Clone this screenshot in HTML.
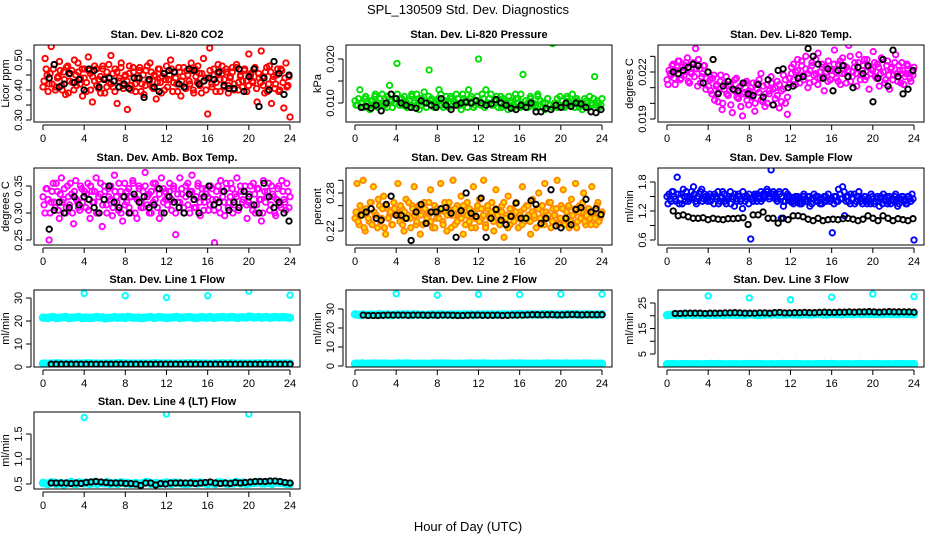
<!DOCTYPE html>
<html><head><meta charset="utf-8">
<style>
html,body{margin:0;padding:0;background:#fff;}
svg{display:block;font-family:"Liberation Sans",sans-serif;}
</style></head>
<body>
<svg id="chart" width="936" height="540" viewBox="0 0 936 540">
<text x="468" y="14" text-anchor="middle" font-size="13">SPL_130509  Std. Dev. Diagnostics</text>
<text x="468" y="531" text-anchor="middle" font-size="13">Hour of Day (UTC)</text>
</svg>
<script>
// ---- data (values in scaled integer units; see panel scale) ----
const xTickLabels = [0,4,8,12,16,20,24];
const outlierHours = [4,8,12,16,20,24];
const outlierHours4 = [4,12,20];

const co2Color = [410,505,450,420,545,470,400,440,495,415,460,385,480,430,465,400,450,490,420,470,440,
395,510,455,360,430,470,405,445,480,390,460,425,515,410,470,355,440,490,405,450,
335,480,415,460,395,440,475,420,385,465,430,490,410,450,370,470,425,445,400,480,
435,500,395,460,420,475,380,445,410,465,430,490,400,470,425,455,390,505,440,320,
540,420,470,395,455,435,480,410,460,390,445,475,420,485,400,450,430,470,395,520,
455,425,475,360,440,530,415,460,395,480,355,445,420,470,400,465,340,490,415,310];
const co2Color2 = [430,470,395,455,420,485,410,445,465,400,435,475,390,455,425,500,415,460,440,380,470,
425,465,400,445,480,415,435,390,470,440,410,485,420,455,395,460,430,475,415,445,
430,455,400,475,420,440,465,395,450,415,480,430,460,405,445,425,470,390,455,435,
410,450,470,425,440,395,460,430,475,405,450,420,465,390,445,480,415,455,430,400,
440,465,410,450,425,485,395,455,435,470,415,440,460,400,475,425,445,410,465,430,
415,450,430,470,405,455,425,445,390,475,420,460,435,405,450,395,470,425,440,410,445];
const co2Black = [440,485,410,420,455,425,435,400,470,465,410,435,440,430,410,420,405,440,440,375,435,410,395,455,465,460,420,410,470,465,420,430,440,435,460,415,405,405,470,395,445,470,345,440,400,495,455,385,450];

const presColor = [105,95,130,100,110,90,85,105,115,100,95,120,110,90,140,105,100,190,95,110,
115,100,90,120,105,95,85,110,125,100,175,110,90,105,130,95,100,115,90,110,
105,120,95,85,110,100,130,115,90,105,200,95,110,130,100,120,95,105,90,115,
110,100,85,105,95,120,110,90,165,105,100,115,95,90,120,105,100,85,110,95,
235,100,90,115,105,95,110,100,120,90,105,95,85,110,100,115,95,160,105,90,110];
const presColor2 = [95,110,100,90,115,100,105,95,120,90,110,100,95,115,105,90,100,120,110,95,100,
90,105,115,100,120,110,95,100,90,115,105,100,95,110,120,90,105,100,115,95,
100,110,95,120,105,90,110,100,95,115,105,120,90,100,110,95,105,115,100,90,
95,105,115,100,90,110,100,120,95,105,90,110,100,95,115,105,90,100,110,95,
90,100,110,95,105,90,115,100,95,105,110,90,100,95,105,90,100,110,95,100,95];
const presBlack = [90,92,88,95,82,100,120,110,100,95,90,88,105,100,95,90,110,95,85,95,100,102,100,105,100,95,98,108,100,95,88,85,95,90,100,80,80,88,85,95,90,100,92,100,98,90,80,78,85];

const tempColor = [2150,2210,2180,2250,2120,2230,2270,2160,2200,2240,2290,2130,2190,2260,2350,2110,2220,2170,2240,2090,2200,
2150,2060,2180,2110,2010,2140,1960,2090,2170,2050,2120,1940,2080,2160,2030,2110,1920,2070,2140,1990,
2100,2040,1950,2130,2070,2190,2010,1980,2120,2060,2170,2090,2030,2140,1970,2080,2180,2000,1930,2120,
2230,2150,2200,2280,2130,2240,2180,2300,2100,2210,2260,2140,2190,2320,2160,2230,2080,2200,2270,2150,
2210,2340,2160,2250,2120,2290,2190,2230,2370,2140,2200,2260,2110,2310,2180,2240,2150,2280,2090,2220,
2330,2170,2250,2110,2290,2200,2150,2270,2090,2230,2180,2310,2140,2210,2260,2120,2190,2240,2160,2200,2230];
const tempColor2 = [2120,2190,2240,2160,2210,2270,2150,2230,2180,2260,2140,2200,2250,2170,2220,2280,2130,2190,2240,2160,2110,
2080,2160,2020,2120,2070,2180,2000,2130,2060,2110,1990,2090,2150,2040,2100,1980,2060,2130,2020,2080,
2060,2130,2000,2090,2150,2020,2110,2060,2000,2080,2130,1990,2100,2050,2120,2010,2090,2150,2040,2160,
2190,2250,2120,2210,2170,2270,2150,2220,2190,2130,2240,2180,2280,2120,2200,2250,2170,2230,2140,2210,
2180,2250,2200,2140,2270,2190,2240,2130,2210,2300,2170,2230,2190,2260,2150,2210,2280,2170,2230,2190,
2210,2260,2160,2230,2190,2280,2130,2240,2180,2220,2150,2260,2190,2240,2130,2210,2170,2250,2190,2140,2180];
const tempBlack = [2200,2190,2210,2230,2250,2240,2130,2200,2280,2060,2110,2140,2090,2080,2130,2060,2050,2120,2040,2150,1990,2210,2220,2100,2110,2160,2170,2350,2300,2250,2160,2220,2080,2210,2240,2170,2100,2230,2190,2240,2010,2160,2280,2110,2340,2170,2060,2090,2210];

const ambColor = [330,300,345,250,320,355,310,340,290,365,325,300,350,315,335,280,360,320,305,345,330,
310,355,290,340,320,365,300,335,275,350,315,345,325,295,370,330,305,340,285,355,
320,345,300,360,330,290,350,310,340,375,315,335,300,355,325,345,290,365,320,340,
330,355,305,345,260,320,365,335,300,350,315,340,370,310,330,355,295,345,320,335,
305,350,325,245,340,310,360,330,295,345,320,355,300,335,365,310,340,325,350,290,
335,315,355,300,345,325,285,360,320,340,305,350,330,295,345,315,360,325,305,340,330];
const ambColor2 = [315,345,325,300,340,320,355,305,335,320,345,310,330,355,300,340,325,310,350,320,340,
335,305,350,320,340,300,330,355,315,340,300,330,350,310,340,320,355,300,330,315,
340,310,330,355,300,325,345,320,310,350,330,300,340,320,355,310,335,300,345,325,
315,340,325,350,300,335,320,345,310,330,355,300,340,325,310,350,320,335,305,345,
330,315,345,305,325,350,300,340,320,355,310,330,345,315,330,305,350,320,340,315,
320,350,305,335,315,345,325,300,340,330,355,315,335,300,325,350,310,340,320,355,310];
const ambBlack = [270,305,320,300,310,330,315,330,325,310,300,325,350,320,310,330,300,335,320,330,310,315,345,300,330,320,310,300,335,325,300,330,350,315,320,340,305,320,310,340,330,315,300,355,330,310,320,300,285];

const rhColor = [240,295,230,255,300,220,250,235,265,290,245,225,260,240,275,215,255,245,230,265,250,
295,235,255,220,270,245,240,260,290,230,255,215,250,265,235,245,285,225,260,240,
250,295,235,265,220,255,245,300,230,260,240,275,215,250,265,235,245,290,225,255,
270,240,300,230,255,245,265,220,285,250,235,260,210,245,275,230,255,240,265,225,
250,290,235,260,245,215,270,240,255,280,230,250,295,240,265,225,255,245,300,235,
260,285,240,255,225,270,245,295,235,260,250,280,230,255,240,290,245,230,265,240,250];
const rhColor2 = [250,235,260,245,225,255,240,265,230,250,245,270,235,255,225,260,240,250,230,255,245,
245,260,230,250,240,265,225,255,245,235,260,245,230,255,240,265,235,250,225,255,
240,255,230,250,245,265,225,245,255,235,250,240,260,230,245,255,225,250,240,260,
235,255,245,225,260,240,250,235,255,245,230,250,265,240,225,255,245,235,250,240,
245,230,255,240,260,235,250,245,225,255,240,260,230,250,245,265,235,245,255,230,
240,255,230,250,260,235,245,255,225,250,240,265,235,245,255,230,250,240,260,235,245];
const rhBlack = [245,250,255,240,237,262,275,245,245,240,205,250,262,232,250,250,255,257,248,210,252,280,248,243,272,210,240,254,237,230,243,264,240,240,268,262,232,240,285,228,225,240,230,254,257,270,250,255,246];

const flowColor = [150,155,140,160,145,190,135,155,165,140,150,145,160,170,140,150,155,165,145,150,140,
155,145,135,150,160,140,148,155,135,145,160,150,130,145,155,140,125,150,145,135,
62,145,155,140,150,160,145,155,165,150,205,155,145,140,160,105,130,140,150,145,
138,148,140,150,135,145,155,140,150,130,145,155,150,140,135,145,150,140,155,145,
75,150,140,165,145,170,110,150,140,155,145,135,150,160,140,145,150,135,140,155,
145,140,150,130,145,155,140,135,150,145,140,155,130,145,150,140,135,150,145,155,60];
const flowColor2 = [135,145,160,150,140,155,145,135,150,160,140,150,145,155,135,150,160,140,155,145,150,
140,150,155,145,135,150,160,140,145,150,135,145,155,140,150,145,160,140,150,155,
145,140,150,155,145,140,155,150,160,145,155,160,150,145,155,150,140,160,155,150,
140,135,150,145,140,135,150,145,140,150,135,145,140,150,145,135,140,150,145,140,
145,135,150,140,155,145,160,140,150,135,145,155,140,150,145,135,150,140,145,135,
150,135,145,140,150,135,145,150,140,135,145,150,140,135,145,150,140,135,150,140,145];
const flowBlack = [120,110,112,108,105,105,106,102,105,103,102,104,104,105,106,92,112,112,118,105,105,95,105,102,110,110,108,103,100,105,100,102,103,102,104,105,103,100,103,110,105,100,110,105,100,104,102,100,104];

const line1Band = [215,213,217,214,216,212,215,218,214,213,216,215,211,214,217,215,213,216,214,212,215,217,214,216,213,215,218,214,216,215,213,217,215,214,216,218,215,217,214,216,219,215,217,216,214,218,215,216,214];
const line1Band2 = [214,216,213,215,217,214,216,213,215,214,217,216,213,215,214,216,218,214,215,213,216,214,217,215,214,216,213,215,217,214,216,215,218,214,216,215,217,214,216,215,218,216,214,217,215,216,218,215];
const line1Low = [15,14,15,16,15,15,14,15,15,16,15,14,15,15,15,16,15,14,15,15,15,14,16,15,15,15,14,15,16,15,15,15,14,15,15,16,15,15,14,15,15,15,16,15,14,15,15,15,15];
const line1Low2 = [15,15,16,15,14,15,15,15,16,15,15,14,15,15,16,15,15,15,14,15,15,16,15,15,15,14,15,15,15,16,15,15,14,15,15,15,16,15,15,14,15,15,15,16,15,15,14,15];
const line1Black = [12,12,12,12,12,12,12,12,12,12,12,12,12,12,12,12,12,12,12,12,12,12,12,12,12,12,12,12,12,12,12,12,12,12,12,12,12,12,12,12,12,12,12,12,12,12,12,12,12];
const line1Out = [320,310,302,310,330,312];

const line2Band = [272,268,270,271,269,272,270,268,271,270,272,269,271,270,268,272,270,271,269,270,272,271,270,268,271,272,270,269,271,272,270,271,273,270,272,271,270,272,273,271,270,272,271,273,270,272,271,270,272];
const line2Band2 = [270,271,269,270,272,270,271,269,270,271,270,272,270,269,271,270,272,270,271,270,269,271,272,270,270,271,272,270,271,270,272,271,270,272,271,270,273,271,272,270,271,273,272,270,271,272,270,271];
const line2Low = [12,12,11,12,13,12,12,11,12,12,13,12,12,12,11,12,12,13,12,12,12,11,12,12,12,13,12,12,11,12,12,12,13,12,12,12,11,12,12,12,12,13,12,12,11,12,12,12,12];
const line2Low2 = [12,13,12,12,11,12,12,12,13,12,12,11,12,12,12,13,12,12,12,11,12,12,13,12,12,12,11,12,12,12,13,12,12,11,12,12,12,13,12,12,12,11,12,12,13,12,12,12];
const line2Black = [268,266,266,266,267,268,268,268,268,267,268,268,268,267,268,267,268,268,267,266,266,267,268,268,267,267,267,268,266,267,268,268,268,269,270,270,269,270,270,269,269,270,271,270,269,270,270,270,270];
const line2Out = [380,373,377,376,378,378];

const line3Band = [202,204,203,205,204,203,205,204,202,204,205,203,204,205,204,203,205,204,203,205,204,206,205,204,206,205,204,206,205,207,206,205,207,206,205,207,206,208,207,206,208,207,206,208,207,206,208,207,206];
const line3Band2 = [203,205,204,203,205,204,203,204,205,203,204,205,204,203,205,204,205,203,204,206,205,204,205,206,205,204,206,205,206,207,205,206,207,206,207,206,207,206,208,207,206,207,208,206,207,208,207,206];
const line3Low = [10,10,9,10,11,10,10,9,10,10,11,10,10,10,9,10,10,11,10,10,10,9,10,10,10,11,10,10,9,10,10,10,11,10,10,10,9,10,10,10,10,11,10,10,9,10,10,10,10];
const line3Low2 = [10,11,10,10,9,10,10,10,11,10,10,9,10,10,10,11,10,10,10,9,10,10,11,10,10,10,9,10,10,10,11,10,10,9,10,10,10,11,10,10,10,9,10,10,11,10,10,10];
const line3Black = [209,209,210,210,210,210,209,210,210,210,211,211,212,211,210,210,210,211,211,210,212,213,211,211,212,212,213,212,212,213,214,213,213,214,214,215,214,215,215,216,215,214,215,216,215,215,215,215,214];
const line3Out = [278,270,263,273,285,275];

const line4Band = [52,50,53,51,49,52,50,53,51,50,54,52,51,50,52,53,51,50,52,51,54,50,52,51,53,50,52,51,50,53,51,52,50,51,53,52,50,51,52,53,51,52,54,51,52,53,52,51,50];
const line4Band2 = [51,53,50,52,51,54,50,52,53,51,50,52,54,51,50,53,52,51,50,52,53,51,50,52,51,53,52,50,51,52,53,51,52,50,53,51,52,54,51,50,52,53,51,52,50,53,52,50];
const line4Black = [52,52,52,52,51,52,51,53,54,55,54,53,52,52,52,51,51,50,47,52,52,48,51,50,52,52,52,52,52,51,52,53,54,52,51,52,51,53,52,53,54,55,55,55,56,56,55,53,52];
const line4Out = [183,190,190];

// ---- layout ----
const svg = document.getElementById('chart');
const NS = 'http://www.w3.org/2000/svg';
const colLeft = [34,346,658], rowTop = [45,168,290,412], BW = 266, BH = 77;

function mk(tag, attrs, parent){
  const e = document.createElementNS(NS, tag);
  for (const k in attrs) e.setAttribute(k, attrs[k]);
  (parent||svg).appendChild(e);
  return e;
}

function panel(cfg){
  const L = colLeft[cfg.col], T = rowTop[cfg.row];
  const g = mk('g', {});
  
  
  const x0 = L + 9, x1 = L + 256;
  const xs = h => x0 + (x1 - x0) * h / 24;
  const [v1, p1, v2, p2] = cfg.ref;
  const ys = v => T + p1 + (v - v1) * (p2 - p1) / (v2 - v1);
  const tt = mk('text', {x: L + BW/2, y: T - 7, 'text-anchor': 'middle', 'font-size': 11, 'font-weight': 'bold'}, g);
  tt.textContent = cfg.title;
  
  
  const cid = 'clip' + cfg.row + cfg.col;
  const cp = mk('clipPath', {id: cid}, g);
  mk('rect', {x: L, y: T, width: BW, height: BH}, cp);
  const pg = mk('g', {'clip-path': 'url(#' + cid + ')'}, g);
  cfg.series.forEach(s => {
    const n = s.vals.length;
    const st = s.start != null ? s.start : 0, en = s.end != null ? s.end : 24;
    for (let i = 0; i < n; i++) {
      const h = s.hours ? s.hours[i] : st + (en - st) * i / (n - 1);
      const c = mk('circle', {cx: xs(h).toFixed(1), cy: ys(s.vals[i] * cfg.scale).toFixed(1), r: s.r || 2.7,
        fill: s.fill || 'none', stroke: s.color, 'stroke-width': s.sw || 1.9}, pg);
      
      
    }
  });
  const box = mk('rect', {x: L, y: T, width: BW, height: BH, fill: 'none', stroke: '#000', 'stroke-width': 1}, g);
  
  
  const B = T + BH;
  mk('line', {x1: x0, x2: x1, y1: B + 3, y2: B + 3, stroke: '#000'}, g);
  xTickLabels.forEach(h => {
    mk('line', {x1: xs(h), x2: xs(h), y1: B + 3, y2: B + 8, stroke: '#000'}, g);
    const t = mk('text', {x: xs(h), y: B + 20, 'text-anchor': 'middle', 'font-size': 11}, g);
    t.textContent = h;
    
    
  });
  const yt = cfg.ticks;
  mk('line', {x1: L - 3, x2: L - 3, y1: ys(yt[0]), y2: ys(yt[yt.length - 1]), stroke: '#000'}, g);
  yt.forEach(v => mk('line', {x1: L - 8, x2: L - 3, y1: ys(v), y2: ys(v), stroke: '#000'}, g));
  cfg.labels.forEach(v => {
    const y = ys(v), x = L - 12;
    const t = mk('text', {x: x, y: y, 'text-anchor': 'middle', 'font-size': 11,
      transform: 'rotate(-90 ' + x + ' ' + y + ')'}, g);
    t.textContent = cfg.fmt(v);
    
    
  });
  const ax = L - 25, ay = T + BH/2;
  const yl = mk('text', {x: ax, y: ay, 'text-anchor': 'middle', 'font-size': 11,
    transform: 'rotate(-90 ' + ax + ' ' + ay + ')'}, g);
  yl.textContent = cfg.ylab;
  
  
}

const RED = '#ff0000', BLK = '#000', GRN = '#00dd00', MAG = '#ff00ff', BLU = '#0000ff', CYA = '#00ffff';
const f2 = v => v.toFixed(2), f3 = v => v.toFixed(3), f1 = v => v.toFixed(1), f0 = v => v.toFixed(0);

panel({name:'panel-co2', row:0, col:0, title:'Stan. Dev. Li-820 CO2', ylab:'Licor ppm', scale:0.001,
  ref:[0.30,75,0.50,15], ticks:[0.30,0.35,0.40,0.45,0.50], labels:[0.30,0.40,0.50], fmt:f2,
  series:[{vals:co2Color,color:RED,name:'co2-point'},{vals:co2Color2,color:RED,start:0.1,end:23.9,name:'co2-point'},
          {vals:co2Black,color:BLK,start:0.6,end:23.9,name:'co2-black-point'}]});
panel({name:'panel-pressure', row:0, col:1, title:'Stan. Dev. Li-820 Pressure', ylab:'kPa', scale:0.0001,
  ref:[0.010,58,0.020,14], ticks:[0.010,0.015,0.020], labels:[0.010,0.020], fmt:f3,
  series:[{vals:presColor,color:GRN,name:'pressure-point'},{vals:presColor2,color:GRN,start:0.1,end:23.9,name:'pressure-point'},
          {vals:presBlack,color:BLK,start:0.6,end:23.9,name:'pressure-black-point'}]});
panel({name:'panel-temp', row:0, col:2, title:'Stan. Dev. Li-820 Temp.', ylab:'degrees C', scale:0.00001,
  ref:[0.019,74,0.022,27], ticks:[0.019,0.020,0.021,0.022,0.023], labels:[0.019,0.022], fmt:f3,
  series:[{vals:tempColor,color:MAG,name:'temp-point'},{vals:tempColor2,color:MAG,start:0.1,end:23.9,name:'temp-point'},
          {vals:tempBlack,color:BLK,start:0.6,end:23.9,name:'temp-black-point'}]});
panel({name:'panel-amb-temp', row:1, col:0, title:'Stan. Dev. Amb. Box Temp.', ylab:'degrees C', scale:0.001,
  ref:[0.25,72,0.35,18], ticks:[0.25,0.30,0.35], labels:[0.25,0.30,0.35], fmt:f2,
  series:[{vals:ambColor,color:MAG,name:'amb-point'},{vals:ambColor2,color:MAG,start:0.1,end:23.9,name:'amb-point'},
          {vals:ambBlack,color:BLK,start:0.6,end:23.9,name:'amb-black-point'}]});
panel({name:'panel-rh', row:1, col:1, title:'Stan. Dev. Gas Stream RH', ylab:'percent', scale:0.001,
  ref:[0.22,63,0.28,25], ticks:[0.22,0.24,0.26,0.28,0.30], labels:[0.22,0.28], fmt:f2,
  series:[{vals:rhColor,color:'#ff8800',fill:'#ffdd00',name:'rh-point'},{vals:rhColor2,color:'#ff8800',fill:'#ffdd00',start:0.1,end:23.9,name:'rh-point'},
          {vals:rhBlack,color:BLK,start:0.6,end:23.9,name:'rh-black-point'}]});
panel({name:'panel-sample-flow', row:1, col:2, title:'Stan. Dev. Sample Flow', ylab:'ml/min', scale:0.01,
  ref:[0.6,72,1.8,14], ticks:[0.6,0.9,1.2,1.5,1.8], labels:[0.6,1.2,1.8], fmt:f1,
  series:[{vals:flowColor,color:BLU,name:'flow-point'},{vals:flowColor2,color:BLU,start:0.1,end:23.9,name:'flow-point'},
          {vals:flowBlack,color:BLK,start:0.6,end:23.9,name:'flow-black-point'}]});
panel({name:'panel-line1', row:2, col:0, title:'Stan. Dev. Line 1 Flow', ylab:'ml/min', scale:0.1,
  ref:[0,77,30,8], ticks:[0,10,20,30], labels:[0,10,20,30], fmt:f0,
  series:[{vals:line1Band,color:CYA,sw:2.4,r:3,name:'line1-band-point'},{vals:line1Band2,color:CYA,sw:2.4,r:3,start:0.25,end:23.75,name:'line1-band-point'},
          {vals:line1Low,color:CYA,sw:2.4,r:3,name:'line1-low-point'},{vals:line1Low2,color:CYA,sw:2.4,r:3,start:0.25,end:23.75,name:'line1-low-point'},
          {vals:line1Black,color:BLK,start:0.8,end:24,name:'line1-black-point'},{vals:line1Out,hours:outlierHours,color:CYA,sw:2,name:'line1-outlier'}]});
panel({name:'panel-line2', row:2, col:1, title:'Stan. Dev. Line 2 Flow', ylab:'ml/min', scale:0.1,
  ref:[0,76,30,19], ticks:[0,10,20,30], labels:[0,10,20,30], fmt:f0,
  series:[{vals:line2Band,color:CYA,sw:2.4,r:3,name:'line2-band-point'},{vals:line2Band2,color:CYA,sw:2.4,r:3,start:0.25,end:23.75,name:'line2-band-point'},
          {vals:line2Low,color:CYA,sw:2.4,r:3,name:'line2-low-point'},{vals:line2Low2,color:CYA,sw:2.4,r:3,start:0.25,end:23.75,name:'line2-low-point'},
          {vals:line2Black,color:BLK,start:0.8,end:24,name:'line2-black-point'},{vals:line2Out,hours:outlierHours,color:CYA,sw:2,name:'line2-outlier'}]});
panel({name:'panel-line3', row:2, col:2, title:'Stan. Dev. Line 3 Flow', ylab:'ml/min', scale:0.1,
  ref:[5,64,25,13], ticks:[5,10,15,20,25], labels:[5,15,25], fmt:f0,
  series:[{vals:line3Band,color:CYA,sw:2.4,r:3,name:'line3-band-point'},{vals:line3Band2,color:CYA,sw:2.4,r:3,start:0.25,end:23.75,name:'line3-band-point'},
          {vals:line3Low,color:CYA,sw:2.4,r:3,name:'line3-low-point'},{vals:line3Low2,color:CYA,sw:2.4,r:3,start:0.25,end:23.75,name:'line3-low-point'},
          {vals:line3Black,color:BLK,start:0.8,end:24,name:'line3-black-point'},{vals:line3Out,hours:outlierHours,color:CYA,sw:2,name:'line3-outlier'}]});
panel({name:'panel-line4', row:3, col:0, title:'Stan. Dev. Line 4 (LT) Flow', ylab:'ml/min', scale:0.01,
  ref:[0.5,72,1.5,22], ticks:[0.5,1.0,1.5], labels:[0.5,1.0,1.5], fmt:f1,
  series:[{vals:line4Band,color:CYA,sw:2.4,r:3,name:'line4-band-point'},{vals:line4Band2,color:CYA,sw:2.4,r:3,start:0.25,end:23.75,name:'line4-band-point'},
          {vals:line4Black,color:BLK,start:0.8,end:24,name:'line4-black-point'},{vals:line4Out,hours:outlierHours4,color:CYA,sw:2,name:'line4-outlier'}]});
</script>
</body></html>
